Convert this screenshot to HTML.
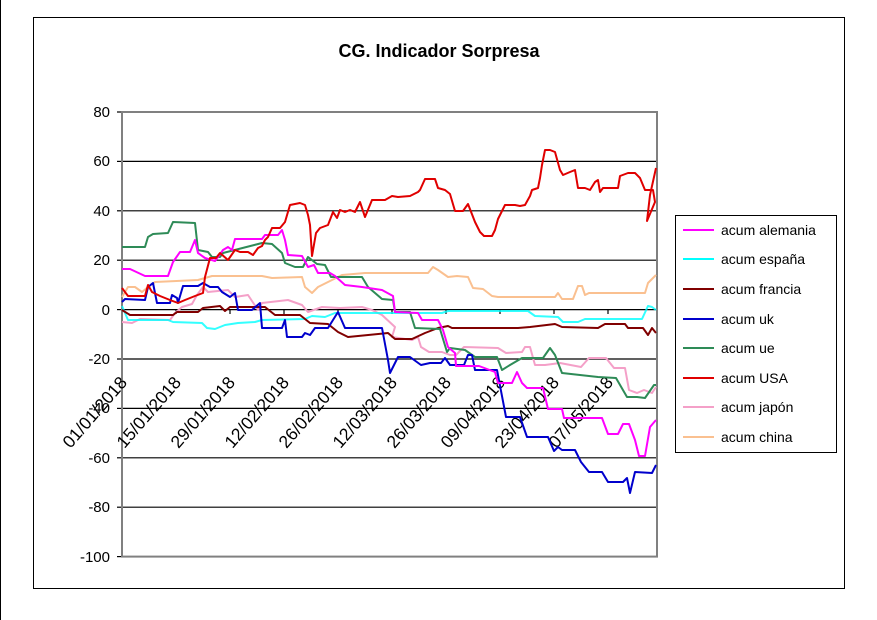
<!DOCTYPE html>
<html><head><meta charset="utf-8"><style>body{margin:0;background:#fff}svg{display:block}</style></head><body>
<svg width="877" height="620" xmlns="http://www.w3.org/2000/svg" font-family="Liberation Sans, Arial, sans-serif">
<rect width="877" height="620" fill="#fff"/>
<line x1="0.5" y1="0" x2="0.5" y2="620" stroke="#000"/>
<rect x="33.5" y="17.5" width="811" height="571" fill="#fff" stroke="#000"/>
<text x="439" y="57" text-anchor="middle" font-size="18" font-weight="bold">CG. Indicador Sorpresa</text>
<g stroke="#000" stroke-width="1.2">
<line x1="122" y1="112" x2="657" y2="112"/><line x1="122" y1="161.4" x2="657" y2="161.4"/>
<line x1="122" y1="210.8" x2="657" y2="210.8"/><line x1="122" y1="260.2" x2="657" y2="260.2"/>
<line x1="122" y1="309.6" x2="657" y2="309.6"/><line x1="122" y1="359" x2="657" y2="359"/>
<line x1="122" y1="408.4" x2="657" y2="408.4"/><line x1="122" y1="457.8" x2="657" y2="457.8"/>
<line x1="122" y1="507.2" x2="657" y2="507.2"/>
<line x1="117" y1="112" x2="122" y2="112"/><line x1="117" y1="161.4" x2="122" y2="161.4"/><line x1="117" y1="210.8" x2="122" y2="210.8"/><line x1="117" y1="260.2" x2="122" y2="260.2"/><line x1="117" y1="309.6" x2="122" y2="309.6"/><line x1="117" y1="359" x2="122" y2="359"/><line x1="117" y1="408.4" x2="122" y2="408.4"/><line x1="117" y1="457.8" x2="122" y2="457.8"/><line x1="117" y1="507.2" x2="122" y2="507.2"/><line x1="117" y1="556.6" x2="122" y2="556.6"/>
<line x1="176" y1="309.6" x2="176" y2="314"/><line x1="230" y1="309.6" x2="230" y2="314"/><line x1="284" y1="309.6" x2="284" y2="314"/><line x1="338" y1="309.6" x2="338" y2="314"/><line x1="392" y1="309.6" x2="392" y2="314"/><line x1="446" y1="309.6" x2="446" y2="314"/><line x1="500" y1="309.6" x2="500" y2="314"/><line x1="554" y1="309.6" x2="554" y2="314"/><line x1="608" y1="309.6" x2="608" y2="314"/>
</g>
<rect x="122" y="112" width="535" height="444.6" fill="none" stroke="#808080" stroke-width="2"/>
<g font-size="15" text-anchor="end">
<text x="110" y="117">80</text><text x="110" y="166">60</text><text x="110" y="216">40</text><text x="110" y="265">20</text><text x="110" y="315">0</text><text x="110" y="364">-20</text><text x="110" y="413">-40</text><text x="110" y="463">-60</text><text x="110" y="512">-80</text><text x="110" y="562">-100</text>
</g>
<g font-size="17.5" text-anchor="end">
<text transform="translate(128,383) rotate(-49)">01/01/2018</text>
<text transform="translate(182,383) rotate(-49)">15/01/2018</text>
<text transform="translate(236,383) rotate(-49)">29/01/2018</text>
<text transform="translate(290,383) rotate(-49)">12/02/2018</text>
<text transform="translate(344,383) rotate(-49)">26/02/2018</text>
<text transform="translate(398,383) rotate(-49)">12/03/2018</text>
<text transform="translate(452,383) rotate(-49)">26/03/2018</text>
<text transform="translate(506,383) rotate(-49)">09/04/2018</text>
<text transform="translate(560,383) rotate(-49)">23/04/2018</text>
<text transform="translate(614,383) rotate(-49)">07/05/2018</text>
</g>
<g fill="none" stroke-width="2" stroke-linejoin="round">
<polyline stroke="#fac090" points="122,297 128,287 135,287 142,292 148,287 155,282 198,280 212,276 262,276 272,278 302,277 305,287 312,293 318,287 342,275 365,273 428,273 433,267 438,270 448,277 457,276 468,277 473,288 483,289 492,296 498,297 555,297 558,293 562,299 573,299 578,286 582,286 585,295 589,293 645,293 648,283 656,275"/>
<polyline stroke="#f4a0c8" points="122,322 132,323 140,319 170,320 175,313 182,307 192,304 197,295 203,287 208,292 228,290 235,297 248,295 258,310 262,303 288,300 302,305 308,312 322,307 340,308 362,307 372,310 382,315 395,327 392,337 412,340 418,337 421,347 429,352 435,352 442,352 450,355 456,355 464,347 498,348 506,353 522,352 525,347 530,347 535,365 545,365 560,363 581,367 589,358 606,358 614,368 625,368 629,390 637,393 644,390 652,393 656,387"/>
<polyline stroke="#00ffff" stroke-opacity="0.8" points="122,306 125,313 128,320 168,320 173,322 202,323 207,328 215,329 225,325 238,323 255,322 262,320 305,319 312,316 325,317 335,313 442,313 448,311 528,311 535,316 558,317 563,322 578,322 585,319 642,319 648,306 652,307 656,310"/>
<polyline stroke="#800000" points="122,310 130,315 173,315 177,312 198,312 203,308 220,306 225,311 230,307 265,307 275,315 300,315 310,323 328,324 338,332 348,337 388,333 395,339 412,339 425,333 438,328 448,326 452,328 518,328 530,327 555,324 562,327 598,328 605,324 625,324 628,328 643,328 648,335 652,328 656,333"/>
<polyline stroke="#2e8b57" points="122,247 145,247 148,237 153,234 168,233 173,222 195,223 198,250 208,252 212,257 220,257 223,253 262,243 272,244 282,253 285,263 295,267 303,267 308,257 317,264 325,265 331,277 345,277 362,277 368,287 382,299 393,300 395,312 410,312 415,328 440,329 447,352 450,348 465,350 475,357 497,357 502,370 510,365 522,358 543,358 550,348 555,355 562,373 598,377 616,378 627,397 637,397 645,398 654,385 656,385"/>
<polyline stroke="#0000cc" points="122,302 125,299 145,300 148,287 153,283 157,303 170,303 172,295 177,298 178,303 183,286 198,286 203,283 210,287 218,287 222,292 230,297 235,293 238,310 252,310 260,303 262,328 282,328 285,320 287,337 302,337 305,333 310,335 315,328 328,328 338,312 345,328 382,328 388,360 390,373 398,357 410,357 421,365 430,363 441,363 445,358 450,365 464,365 468,355 472,355 475,370 497,370 506,417 520,417 527,437 548,437 554,451 558,447 562,450 575,450 581,462 589,472 602,472 608,482 623,482 627,478 630,493 635,472 652,473 656,465"/>
<polyline stroke="#ff00ff" points="122,269 130,269 145,276 168,276 173,262 180,252 190,252 195,240 198,253 205,258 215,261 223,250 228,247 232,250 235,239 262,239 265,235 278,235 282,230 285,240 288,255 302,256 308,267 314,265 318,273 330,273 335,276 345,285 362,287 382,290 393,296 395,312 418,313 422,320 438,320 443,330 448,347 455,353 456,366 479,366 495,372 498,383 512,383 517,372 522,383 527,388 543,388 548,409 562,409 564,418 602,418 608,434 618,434 623,424 629,424 635,440 639,456 645,456 650,427 656,420"/>
<polyline stroke="#e00000" points="122,288 128,296 145,296 148,285 152,292 160,296 170,300 178,303 185,300 195,296 203,293 205,277 210,258 216,258 220,253 228,260 235,250 240,252 248,252 253,255 258,248 262,246 265,240 268,237 272,228 280,228 285,222 290,205 300,203 305,205 308,215 310,225 312,256 316,233 320,228 328,225 333,212 337,218 340,210 345,212 350,210 355,212 360,202 365,217 372,200 385,200 392,196 398,197 410,196 418,192 420,190 425,179 435,179 438,188 445,190 450,194 455,211 463,211 468,204 475,222 480,232 484,236 492,236 495,230 498,219 505,205 515,205 520,206 525,205 530,196 532,190 538,188 540,178 542,165 545,150 550,150 555,152 560,170 563,175 570,172 575,170 578,188 585,188 590,190 595,182 598,180 600,192 603,188 618,188 620,176 628,173 635,173 640,178 645,190 653,190 655,202 647,221 650,195 656,168"/>
</g>
<rect x="675.5" y="215.5" width="161" height="237" fill="#fff" stroke="#000"/>
<g stroke-width="2">
<line x1="683" y1="230" x2="714" y2="230" stroke="#ff00ff"/>
<line x1="683" y1="259" x2="714" y2="259" stroke="#00ffff"/>
<line x1="683" y1="289" x2="714" y2="289" stroke="#800000"/>
<line x1="683" y1="319" x2="714" y2="319" stroke="#0000cc"/>
<line x1="683" y1="348" x2="714" y2="348" stroke="#2e8b57"/>
<line x1="683" y1="378" x2="714" y2="378" stroke="#e00000"/>
<line x1="683" y1="407" x2="714" y2="407" stroke="#f4a0c8"/>
<line x1="683" y1="437" x2="714" y2="437" stroke="#fac090"/>
</g>
<g font-size="14">
<text x="721" y="235">acum alemania</text>
<text x="721" y="264">acum españa</text>
<text x="721" y="294">acum francia</text>
<text x="721" y="324">acum uk</text>
<text x="721" y="353">acum ue</text>
<text x="721" y="383">acum USA</text>
<text x="721" y="412">acum japón</text>
<text x="721" y="442">acum china</text>
</g>
</svg>
</body></html>
